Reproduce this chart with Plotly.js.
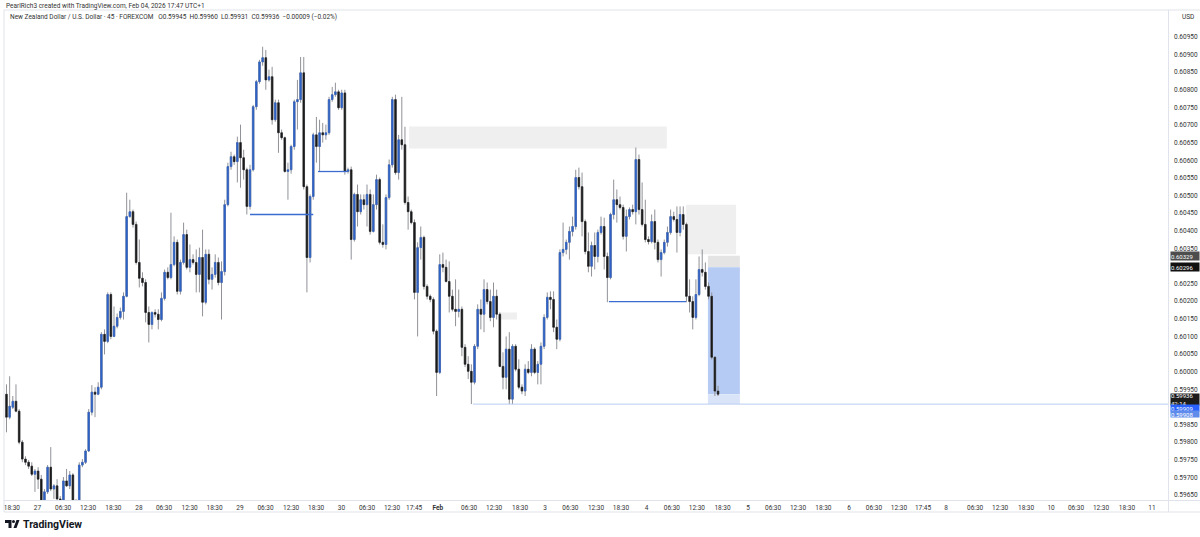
<!DOCTYPE html>
<html><head><meta charset="utf-8">
<script src="https://cdn.plot.ly/plotly-3.0.1.min.js"></script>
<style>html,body{margin:0;padding:0;background:#fff}#chart{width:1200px;height:537px}</style>
</head><body><div id="chart"></div>
<script>
const opens=[0.59936,0.59871,0.59899,0.59916,0.59888,0.59800,0.59752,0.59743,0.59732,0.59709,0.59718,0.59695,0.59630,0.59659,0.59729,0.59667,0.59676,0.59639,0.59622,0.59690,0.59676,0.59707,0.59616,0.59625,0.59735,0.59743,0.59775,0.59885,0.59942,0.59936,
0.59956,0.60106,0.60086,0.60219,0.60100,0.60129,0.60154,0.60171,0.60214,0.60440,0.60454,0.60418,0.60310,0.60265,0.60253,0.60168,0.60134,0.60168,0.60163,0.60148,
0.60208,0.60282,0.60267,0.60304,0.60367,0.60228,0.60310,0.60389,0.60296,0.60318,0.60310,0.60276,0.60324,0.60197,0.60333,0.60262,0.60276,0.60310,0.60253,0.60284,
0.60474,0.60582,0.60610,0.60596,0.60650,0.60607,0.60573,0.60469,0.60573,0.60752,0.60823,0.60879,0.60891,0.60828,0.60837,0.60715,0.60763,0.60678,0.60664,0.60568,
0.60573,0.60639,0.60766,0.60772,0.60848,0.60525,0.60324,0.60497,0.60672,0.60639,0.60678,0.60672,0.60678,0.60772,0.60786,0.60794,0.60749,0.60791,0.60568,0.60573,
0.60375,0.60503,0.60454,0.60488,0.60474,0.60503,0.60398,0.60474,0.60545,0.60367,0.60361,0.60494,0.60587,0.60772,0.60565,0.60658,0.60644,0.60480,0.60454,0.60423,
0.60225,0.60352,0.60381,0.60242,0.60214,0.60205,0.60115,0.59998,0.60304,0.60296,0.60256,0.60214,0.60177,0.60171,0.60177,0.60069,0.60021,0.60001,0.59970,0.60072,
0.60177,0.60163,0.60233,0.60199,0.60154,0.60214,0.60163,0.60015,0.59984,0.60064,0.59922,0.60072,0.60007,0.59956,0.59945,0.60007,0.59998,0.60064,0.59998,0.60021,
0.60072,0.60154,0.60211,0.60205,0.60126,0.60092,0.60338,0.60347,0.60367,0.60398,0.60412,0.60551,0.60525,0.60426,0.60341,0.60299,0.60358,0.60327,0.60395,0.60412,
0.60327,0.60267,0.60446,0.60488,0.60474,0.60466,0.60384,0.60440,0.60460,0.60454,0.60602,0.60460,0.60418,0.60375,0.60369,0.60426,0.60367,0.60318,0.60338,0.60367,
0.60395,0.60440,0.60432,0.60395,0.60446,0.60418,0.60214,0.60199,0.60154,0.60219,0.60290,0.60282,0.60242,0.60214,0.60041,0.59945];
const highs=[0.59964,0.59987,0.59931,0.59964,0.59894,0.59806,0.59760,0.59749,0.59743,0.59724,0.59729,0.59707,0.59667,0.59735,0.59786,0.59681,0.59695,0.59647,0.59701,0.59724,0.59718,0.59712,0.59639,0.59743,0.59752,0.59780,0.59894,0.59962,0.59956,0.59970,
0.60112,0.60120,0.60225,0.60225,0.60185,0.60165,0.60182,0.60225,0.60508,0.60488,0.60460,0.60426,0.60375,0.60282,0.60262,0.60185,0.60171,0.60177,0.60177,0.60225,
0.60290,0.60296,0.60451,0.60384,0.60375,0.60318,0.60423,0.60403,0.60361,0.60333,0.60347,0.60352,0.60403,0.60347,0.60347,0.60296,0.60333,0.60324,0.60313,0.60488,
0.60593,0.60624,0.60616,0.60667,0.60701,0.60630,0.60579,0.60587,0.60757,0.60828,0.60885,0.60922,0.60913,0.60857,0.60865,0.60772,0.60772,0.60687,0.60667,0.60593,
0.60644,0.60772,0.60828,0.60893,0.60893,0.60531,0.60503,0.60678,0.60723,0.60715,0.60706,0.60701,0.60780,0.60808,0.60820,0.60800,0.60800,0.60800,0.60579,0.60582,
0.60508,0.60531,0.60503,0.60503,0.60531,0.60517,0.60503,0.60559,0.60551,0.60418,0.60503,0.60602,0.60780,0.60786,0.60672,0.60780,0.60695,0.60497,0.60460,0.60432,
0.60367,0.60412,0.60386,0.60248,0.60219,0.60211,0.60120,0.60333,0.60338,0.60318,0.60313,0.60233,0.60262,0.60233,0.60185,0.60078,0.60044,0.60021,0.60078,0.60191,
0.60205,0.60262,0.60253,0.60233,0.60253,0.60233,0.60168,0.60055,0.60100,0.60112,0.60078,0.60078,0.60035,0.59964,0.60021,0.60030,0.60078,0.60069,0.60030,0.60083,
0.60163,0.60225,0.60228,0.60228,0.60148,0.60347,0.60423,0.60375,0.60412,0.60440,0.60573,0.60579,0.60565,0.60432,0.60395,0.60369,0.60395,0.60403,0.60440,0.60437,
0.60338,0.60451,0.60545,0.60517,0.60497,0.60474,0.60460,0.60466,0.60474,0.60636,0.60616,0.60537,0.60488,0.60384,0.60446,0.60460,0.60375,0.60347,0.60375,0.60412,
0.60460,0.60454,0.60469,0.60469,0.60469,0.60423,0.60262,0.60214,0.60262,0.60327,0.60347,0.60310,0.60253,0.60225,0.60044,0.59960];
const lows=[0.59828,0.59865,0.59894,0.59885,0.59794,0.59743,0.59735,0.59724,0.59704,0.59659,0.59667,0.59616,0.59622,0.59653,0.59661,0.59639,0.59633,0.59610,0.59616,0.59673,0.59667,0.59605,0.59596,0.59619,0.59729,0.59738,0.59772,0.59876,0.59871,0.59933,
0.59950,0.60049,0.60081,0.60092,0.60098,0.60123,0.60148,0.60148,0.60211,0.60437,0.60409,0.60304,0.60239,0.60242,0.60140,0.60083,0.60120,0.60154,0.60120,0.60143,
0.60202,0.60262,0.60262,0.60299,0.60219,0.60219,0.60304,0.60290,0.60282,0.60304,0.60225,0.60225,0.60157,0.60191,0.60248,0.60233,0.60267,0.60245,0.60148,0.60273,
0.60469,0.60573,0.60587,0.60537,0.60522,0.60545,0.60446,0.60460,0.60568,0.60743,0.60817,0.60868,0.60800,0.60823,0.60701,0.60709,0.60621,0.60658,0.60565,0.60488,
0.60562,0.60630,0.60687,0.60763,0.60517,0.60225,0.60310,0.60488,0.60593,0.60568,0.60650,0.60658,0.60672,0.60766,0.60780,0.60743,0.60743,0.60559,0.60562,0.60318,
0.60369,0.60412,0.60446,0.60460,0.60412,0.60389,0.60395,0.60460,0.60361,0.60352,0.60347,0.60488,0.60579,0.60559,0.60545,0.60630,0.60474,0.60403,0.60418,0.60205,
0.60100,0.60318,0.60233,0.60205,0.60197,0.60106,0.59931,0.59993,0.60282,0.60253,0.60168,0.60171,0.60129,0.60154,0.60044,0.60013,0.59979,0.59908,0.59964,0.60064,
0.60120,0.60112,0.60191,0.60143,0.60126,0.60148,0.60013,0.59950,0.59950,0.59908,0.59908,0.60001,0.59950,0.59936,0.59931,0.59993,0.59987,0.59993,0.59964,0.59964,
0.60064,0.60148,0.60177,0.60112,0.60064,0.60086,0.60327,0.60333,0.60318,0.60384,0.60403,0.60517,0.60384,0.60333,0.60282,0.60270,0.60290,0.60310,0.60389,0.60290,
0.60197,0.60262,0.60432,0.60423,0.60460,0.60375,0.60341,0.60432,0.60446,0.60418,0.60446,0.60412,0.60367,0.60361,0.60364,0.60347,0.60310,0.60270,0.60333,0.60355,
0.60389,0.60426,0.60338,0.60384,0.60403,0.60197,0.60168,0.60120,0.60148,0.60214,0.60270,0.60233,0.60205,0.60035,0.59931,0.59931];
const closes=[0.59871,0.59902,0.59916,0.59888,0.59800,0.59752,0.59743,0.59732,0.59709,0.59718,0.59695,0.59630,0.59659,0.59729,0.59667,0.59676,0.59639,0.59622,0.59690,0.59676,0.59707,0.59616,0.59625,0.59735,0.59743,0.59775,0.59885,0.59942,0.59936,0.59956,
0.60106,0.60086,0.60219,0.60100,0.60129,0.60154,0.60171,0.60214,0.60440,0.60454,0.60418,0.60310,0.60265,0.60253,0.60168,0.60134,0.60168,0.60163,0.60148,0.60208,
0.60282,0.60267,0.60304,0.60367,0.60228,0.60310,0.60389,0.60296,0.60318,0.60310,0.60276,0.60324,0.60197,0.60333,0.60262,0.60276,0.60310,0.60253,0.60284,0.60474,
0.60582,0.60610,0.60596,0.60650,0.60607,0.60573,0.60469,0.60573,0.60752,0.60823,0.60879,0.60891,0.60828,0.60837,0.60715,0.60763,0.60678,0.60664,0.60568,0.60573,
0.60639,0.60766,0.60772,0.60848,0.60525,0.60324,0.60497,0.60672,0.60639,0.60678,0.60672,0.60678,0.60772,0.60786,0.60794,0.60749,0.60791,0.60568,0.60573,0.60375,
0.60503,0.60454,0.60488,0.60474,0.60503,0.60398,0.60474,0.60545,0.60367,0.60361,0.60494,0.60587,0.60772,0.60565,0.60658,0.60644,0.60480,0.60454,0.60423,0.60225,
0.60352,0.60381,0.60242,0.60214,0.60205,0.60115,0.59998,0.60304,0.60296,0.60256,0.60214,0.60177,0.60171,0.60177,0.60069,0.60021,0.60001,0.59970,0.60072,0.60177,
0.60163,0.60233,0.60199,0.60154,0.60214,0.60163,0.60015,0.59984,0.60064,0.59922,0.60072,0.60007,0.59956,0.59945,0.60007,0.59998,0.60064,0.59998,0.60021,0.60072,
0.60154,0.60211,0.60205,0.60126,0.60092,0.60338,0.60347,0.60367,0.60398,0.60412,0.60551,0.60525,0.60426,0.60341,0.60299,0.60358,0.60327,0.60395,0.60412,0.60327,
0.60267,0.60446,0.60488,0.60474,0.60466,0.60384,0.60440,0.60460,0.60454,0.60602,0.60460,0.60418,0.60375,0.60369,0.60426,0.60367,0.60318,0.60338,0.60367,0.60395,
0.60440,0.60432,0.60395,0.60446,0.60418,0.60214,0.60199,0.60154,0.60219,0.60290,0.60282,0.60242,0.60214,0.60041,0.59945,0.59936];

const tickLabels=["18:30","27","06:30","12:30","18:30","28","06:30","12:30","18:30","29","06:30","12:30","18:30","30","06:30","12:30","17:45","<b>Feb</b>","06:30","12:30","18:30","3","06:30","12:30","18:30","4","06:30","12:30","18:30","5","06:30","12:30","18:30","6","06:30","12:30","17:45","8","06:30","12:30","18:30","10","06:30","12:30","18:30","11"];
const tickIdx=[1.7,9.8,17.9,25.8,33.8,41.9,49.8,57.9,65.8,73.8,81.9,90.0,97.9,105.9,114.0,121.9,128.9,136.4,146.3,154.2,162.4,170.3,178.3,186.4,194.3,202.4,210.4,218.3,226.4,234.5,242.4,250.3,258.3,266.4,274.3,282.2,289.8,297.1,306.3,314.2,322.4,330.3,338.2,346.1,354.3,362.2];
// price-scale ticks (0.60300 and 0.59900 sit under the price tags in the reference)
const priceTicks=[0.5965,0.597,0.5975,0.598,0.5985,0.5995,0.6,0.6005,0.601,0.6015,0.602,0.6025,0.6035,0.604,0.6045,0.605,0.6055,0.606,0.6065,0.607,0.6075,0.608,0.6085,0.609,0.6095];

// levels
const stopLevel=0.60329, entryLevel=0.60296, targetLevel=0.59908, lastPrice=0.59936, targetMark=0.59909;
const zones=[{x0:127.3,x1:208.8,y0:0.60633,y1:0.60696},{x0:214.9,x1:230.7,y0:0.60333,y1:0.60474},{x0:156.0,x1:161.4,y0:0.60148,y1:0.60168}];
const levelLines=[{x0:77,x1:97,y:0.60446},{x0:98.5,x1:107.7,y:0.60568},{x0:190.5,x1:214.9,y:0.60199}];

const xs=opens.map((_,i)=>i);
const bodyHi=opens.map((o,i)=>Math.max(o,closes[i]));
const bodyLo=opens.map((o,i)=>Math.min(o,closes[i]));

const BLUE='#2f62c6', DARK='#1b1b1b', WICK='#909298';
const wick={type:'candlestick',x:xs,open:opens,high:highs,low:lows,close:closes,
  increasing:{line:{color:WICK,width:1},fillcolor:WICK},decreasing:{line:{color:WICK,width:1},fillcolor:WICK},
  whiskerwidth:0,hoverinfo:'skip',showlegend:false};
const body={type:'candlestick',x:xs,open:opens,high:bodyHi,low:bodyLo,close:closes,
  increasing:{line:{color:BLUE,width:0.5},fillcolor:BLUE},decreasing:{line:{color:DARK,width:0.5},fillcolor:DARK},
  whiskerwidth:0,hoverinfo:'skip',showlegend:false};

const L=5,R=1168,T=10,B=500;
const X=px=>(px-L)/(R-L), Y=py=>(B-py)/(B-T);
const shapes=[];
zones.forEach(z=>shapes.push({type:'rect',xref:'x',yref:'y',x0:z.x0,x1:z.x1,y0:z.y0,y1:z.y1,fillcolor:'#efefef',line:{width:0},layer:'below'}));
// position tool
shapes.push({type:'rect',xref:'x',yref:'y',x0:221.8,x1:231.9,y0:entryLevel,y1:stopLevel,fillcolor:'#e4e4e4',line:{width:0},layer:'below'});
shapes.push({type:'rect',xref:'x',yref:'y',x0:221.8,x1:231.9,y0:lastPrice,y1:entryLevel,fillcolor:'#b5cbf4',line:{width:0},layer:'below'});
shapes.push({type:'rect',xref:'x',yref:'y',x0:221.8,x1:231.9,y0:targetLevel,y1:lastPrice,fillcolor:'#d9e4f9',line:{width:0},layer:'below'});
levelLines.forEach(l=>shapes.push({type:'line',xref:'x',yref:'y',x0:l.x0,x1:l.x1,y0:l.y,y1:l.y,line:{color:'#3b6cd0',width:1.3}}));
shapes.push({type:'line',xref:'x',yref:'y',x0:147.5,x1:367.3,y0:targetLevel,y1:targetLevel,line:{color:'#b9cdf2',width:1}});
// frame
shapes.push({type:'line',xref:'paper',yref:'paper',x0:X(4),x1:X(1200),y0:Y(10),y1:Y(10),line:{color:'#e0e3eb',width:1}});
shapes.push({type:'line',xref:'paper',yref:'paper',x0:X(4),x1:X(4),y0:Y(10),y1:Y(512),line:{color:'#e0e3eb',width:1}});
shapes.push({type:'line',xref:'paper',yref:'paper',x0:X(4),x1:X(1200),y0:Y(500.5),y1:Y(500.5),line:{color:'#e0e3eb',width:1}});
shapes.push({type:'line',xref:'paper',yref:'paper',x0:X(4),x1:X(1200),y0:Y(512),y1:Y(512),line:{color:'#e0e3eb',width:1}});
shapes.push({type:'line',xref:'paper',yref:'paper',x0:X(1168.5),x1:X(1168.5),y0:Y(10),y1:Y(512),line:{color:'#e0e3eb',width:1}});
// TradingView logo
const P=(pts)=>'M'+pts.map(p=>X(p[0]).toFixed(5)+','+Y(p[1]).toFixed(5)).join(' L')+' Z';
shapes.push({type:'path',xref:'paper',yref:'paper',path:P([[5,520],[11.5,520],[11.5,528],[8.5,528],[8.5,523],[5,523]]),fillcolor:'#131722',line:{width:0}});
shapes.push({type:'circle',xref:'paper',yref:'paper',x0:X(12),x1:X(15),y0:Y(520),y1:Y(523),fillcolor:'#131722',line:{width:0}});
shapes.push({type:'path',xref:'paper',yref:'paper',path:P([[13.5,528],[16.5,520],[19.5,520],[16.5,528]]),fillcolor:'#131722',line:{width:0}});

const FONT='Roboto, "Open Sans", sans-serif';
const ann=[];
ann.push({xref:'paper',yref:'paper',x:X(4),y:Y(6),xanchor:'left',yanchor:'middle',showarrow:false,text:'PearlRich3 created with TradingView.com, Feb 04, 2026 17:47 UTC+1',font:{size:6.5,color:'#333',family:FONT}});
ann.push({xref:'paper',yref:'paper',x:X(8),y:Y(17),xanchor:'left',yanchor:'middle',showarrow:false,text:'New Zealand Dollar / U.S. Dollar · 45 · FOREXCOM   O0.59945  H0.59960  L0.59931  C0.59936  −0.00009 (−0.02%)',font:{size:6.5,color:'#333',family:FONT}});
ann.push({xref:'paper',yref:'paper',x:X(1180),y:Y(17),xanchor:'left',yanchor:'middle',showarrow:false,text:'USD',font:{size:6.5,color:'#333',family:FONT}});
ann.push({xref:'paper',yref:'paper',x:X(21),y:Y(524.5),xanchor:'left',yanchor:'middle',showarrow:false,text:'<b>TradingView</b>',font:{size:10.5,color:'#131722',family:FONT}});
const tag=(y,txt,bg,ys,h)=>({xref:'paper',yref:'y',x:X(1170),y:y,xanchor:'left',yanchor:'middle',yshift:ys||0,showarrow:false,text:txt,bgcolor:bg,width:28,height:h||6.5,align:'left',valign:'middle',borderpad:0,font:{size:6,color:'#fff',family:FONT}});
ann.push(tag(stopLevel,'0.60329','#4d4d4d',0,8));
ann.push(tag(entryLevel,'0.60296','#111',0,8));
ann.push(tag(lastPrice,'0.59936<br>42:14','#1c1c1c',-5.5,11));
ann.push(tag(targetMark,'0.59909','#2962ff',-4.5,6));
ann.push(tag(targetLevel,'0.59908','#5f8bea',-10.3,6));

const layout={width:1200,height:537,margin:{l:L,r:1200-R,t:T,b:537-B},paper_bgcolor:'#fff',plot_bgcolor:'#fff',
  showlegend:false,shapes:shapes,annotations:ann,boxgap:0.3,
  xaxis:{range:[-0.47,367.28],rangeslider:{visible:false},showgrid:false,zeroline:false,tickmode:'array',tickvals:tickIdx,ticktext:tickLabels,
    tickfont:{size:6.5,color:'#333',family:FONT},ticks:'',showline:false,fixedrange:true,ticklabelstandoff:2},
  yaxis:{side:'right',range:[0.596359,0.610263],showgrid:false,zeroline:false,tickmode:'array',tickvals:priceTicks,tickformat:'.5f',
    tickfont:{size:6.5,color:'#333',family:FONT},ticks:'',showline:false,fixedrange:true,ticklabelstandoff:5}
};
Plotly.newPlot('chart',[wick,body],layout,{displayModeBar:false,staticPlot:true});
</script></body></html>
